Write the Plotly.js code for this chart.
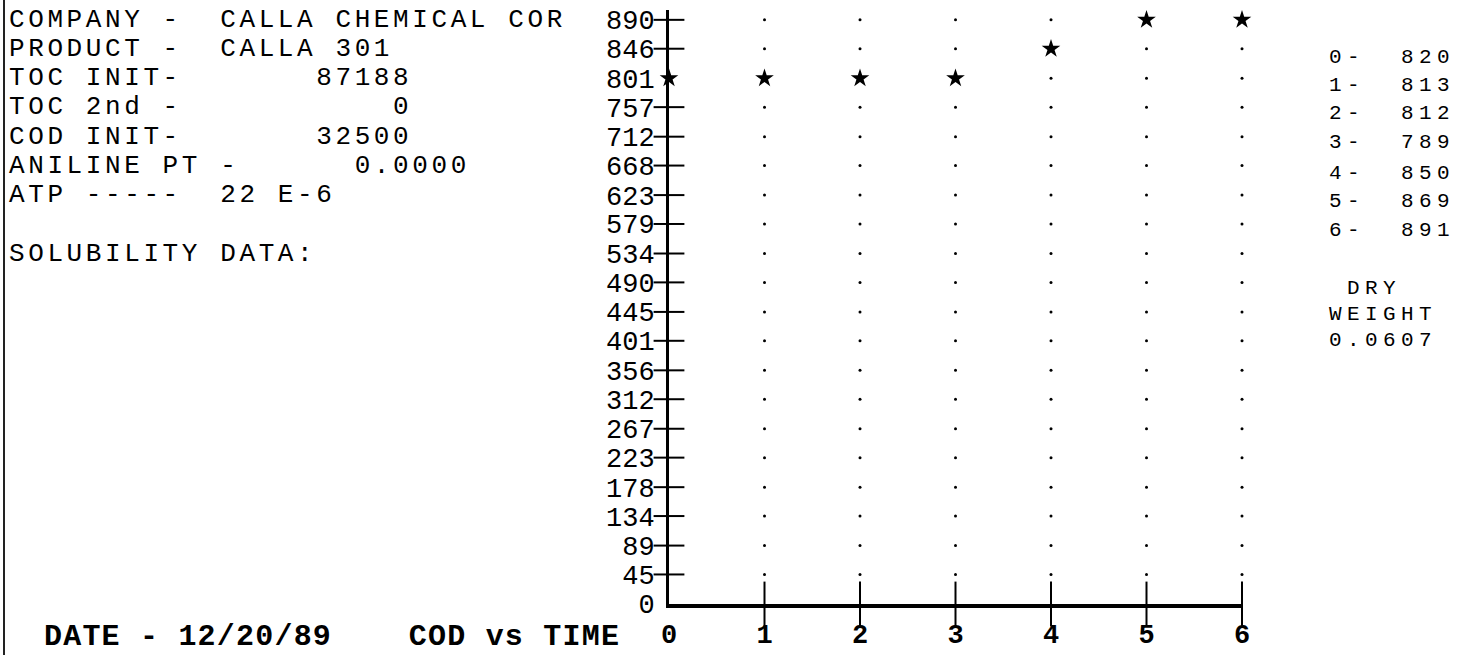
<!DOCTYPE html>
<html>
<head>
<meta charset="utf-8">
<script src="https://cdn.plot.ly/plotly-3.0.1.min.js"></script>
<style>
  html, body { margin: 0; padding: 0; background: #fff; }
  #chart { width: 1473px; height: 655px; }
  .annotation-text[style*="font-size: 26px"] { letter-spacing: 3.6px; }
  .annotation-text[style*="font-size: 30px"] { letter-spacing: 1.2px; }
  .annotation-text[style*="font-size: 21px"] { letter-spacing: 5.4px; }
</style>
</head>
<body>
<div id="chart"></div>
<script>
// ---------------- data ----------------
const xTicks = [0, 1, 2, 3, 4, 5, 6];
const yTicks = [0, 45, 89, 134, 178, 223, 267, 312, 356, 401, 445, 490, 534, 579, 623, 668, 712, 757, 801, 846, 890];
const timePoints = [0, 1, 2, 3, 4, 5, 6];
const plottedCod = [801, 801, 801, 801, 846, 890, 890];
const codReadings = ['820', '813', '812', '789', '850', '869', '891'];
const headerLines = [
  'COMPANY -  CALLA CHEMICAL COR',
  'PRODUCT -  CALLA 301',
  'TOC INIT-       87188',
  'TOC 2nd -           0',
  'COD INIT-       32500',
  'ANILINE PT -      0.0000',
  'ATP -----  22 E-6',
  '',
  'SOLUBILITY DATA:'
];
const dryWeightLines = [' DRY', 'WEIGHT', '0.0607'];
const footerText = 'DATE - 12/20/89    COD vs TIME';

// ---------------- layout helpers ----------------
const W = 1473, H = 655;
const plotL = 669, plotR = 1242, plotT = 10, plotB = 604;
const px = v => (v - plotL) / (plotR - plotL);
const py = v => (plotB - v) / (plotB - plotT);
const nb = s => s.replace(/ /g, '\u00A0');
const MONO = '"Liberation Mono", "DejaVu Sans Mono", monospace';

// grid dots at every tick crossing
const dotX = [], dotY = [];
xTicks.filter(x => x > 0).forEach(x => {
  yTicks.filter(y => y > 0).forEach(y => { dotX.push(x); dotY.push(y); });
});
// "+" tick marks along axes
const starAtZero = plottedCod.filter((v, i) => timePoints[i] === 0);
const yCrossY = yTicks.filter(y => y > 0 && !starAtZero.includes(y));
const xCrossX = xTicks.filter(x => x > 0);

const traces = [
  { type: 'scatter', mode: 'markers', x: dotX, y: dotY, cliponaxis: false,
    marker: { symbol: 'circle', size: 3, color: '#000' }, hoverinfo: 'skip' },
  { type: 'scatter', mode: 'markers', x: yCrossY.map(() => 0), y: yCrossY, cliponaxis: false,
    marker: { symbol: 'line-ew', size: 22, line: { width: 2, color: '#000' } }, hoverinfo: 'skip' },
  { type: 'scatter', mode: 'markers', x: xCrossX, y: xCrossX.map(() => 0), cliponaxis: false,
    marker: { symbol: 'line-ns', size: 32, line: { width: 2, color: '#000' } }, hoverinfo: 'skip' },
  { type: 'scatter', mode: 'markers', x: timePoints, y: plottedCod, cliponaxis: false,
    marker: { symbol: 'star', size: 14, color: '#000', line: { width: 0 } }, hoverinfo: 'skip' }
];

const annotations = [];
const rowY = yTicks.slice().reverse();
headerLines.forEach((t, i) => {
  if (!t) return;
  annotations.push({ xref: 'paper', yref: 'y', x: px(8), y: rowY[i], xanchor: 'left', yanchor: 'middle',
    text: nb(t), showarrow: false, borderpad: 0, font: { family: MONO, size: 26, color: '#000' } });
});
const readingRows = [57, 85, 114, 142, 173, 202, 230];
codReadings.forEach((v, i) => {
  annotations.push({ xref: 'paper', yref: 'paper', x: px(1328), y: py(readingRows[i]), xanchor: 'left', yanchor: 'middle',
    text: nb(timePoints[i] + '-  ' + v), showarrow: false, borderpad: 0, font: { family: MONO, size: 21, color: '#000' } });
});
const dryRows = [288, 314, 340];
dryWeightLines.forEach((t, i) => {
  annotations.push({ xref: 'paper', yref: 'paper', x: px(1328), y: py(dryRows[i]), xanchor: 'left', yanchor: 'middle',
    text: nb(t), showarrow: false, borderpad: 0, font: { family: MONO, size: 21, color: '#000' } });
});
annotations.push({ xref: 'paper', yref: 'paper', x: px(43), y: py(637), xanchor: 'left', yanchor: 'middle',
  text: nb(footerText), showarrow: false, borderpad: 0, font: { family: MONO, size: 30, color: '#000', weight: 'bold' } });

const layout = {
  width: W, height: H,
  margin: { l: plotL, r: W - plotR, t: plotT, b: H - plotB, pad: 0 },
  paper_bgcolor: '#fff', plot_bgcolor: '#fff',
  showlegend: false, hovermode: false,
  xaxis: {
    range: [0, 6], tickvals: xTicks, ticktext: xTicks.map(String), ticks: '',
    showgrid: false, zeroline: false, showline: true, linewidth: 4, linecolor: '#000',
    tickfont: { family: MONO, size: 27, color: '#000', weight: 'bold' },
    ticklabelstandoff: 3, fixedrange: true
  },
  yaxis: {
    range: [0, 905], tickvals: yTicks, ticktext: yTicks.map(String), ticks: '',
    showgrid: false, zeroline: false, showline: true, linewidth: 3, linecolor: '#000',
    tickfont: { family: MONO, size: 27, color: '#000' },
    ticklabelstandoff: 6, fixedrange: true
  },
  annotations: annotations,
  shapes: [
    { type: 'line', xref: 'paper', yref: 'paper', x0: px(4), x1: px(4), y0: py(H), y1: py(0),
      line: { color: '#222', width: 2 } }
  ]
};

Plotly.newPlot('chart', traces, layout, { displayModeBar: false, staticPlot: true });
</script>
</body>
</html>
